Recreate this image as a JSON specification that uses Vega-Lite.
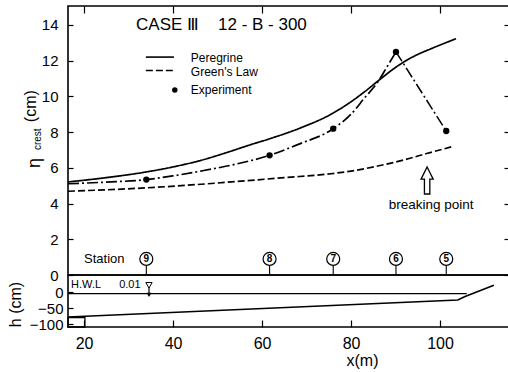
{
  "$schema": "https://vega.github.io/schema/vega-lite/v6.json",
  "padding": {"left": 6, "top": 4, "right": 0, "bottom": 0},
  "spacing": 0,
  "bounds": "flush",
  "config": {
    "font": "Liberation Sans",
    "view": {"stroke": "black", "strokeWidth": 1.6},
    "axis": {"domain": false, "grid": false, "tickColor": "black", "tickWidth": 1.2, "labelColor": "black", "titleColor": "black", "labelFont": "Liberation Sans", "titleFont": "Liberation Sans", "titleFontWeight": "normal"},
    "text": {"color": "black"}
  },
  "datasets": {
    "one": [{}],
    "curves": [
      {"model": "Peregrine", "x": 16.4, "eta": 5.21},
      {"model": "Peregrine", "x": 25, "eta": 5.45},
      {"model": "Peregrine", "x": 34, "eta": 5.77},
      {"model": "Peregrine", "x": 40, "eta": 6.05},
      {"model": "Peregrine", "x": 46.3, "eta": 6.42},
      {"model": "Peregrine", "x": 52, "eta": 6.85},
      {"model": "Peregrine", "x": 57.5, "eta": 7.3},
      {"model": "Peregrine", "x": 62, "eta": 7.65},
      {"model": "Peregrine", "x": 68.8, "eta": 8.25},
      {"model": "Peregrine", "x": 75.5, "eta": 9.0},
      {"model": "Peregrine", "x": 80, "eta": 9.7},
      {"model": "Peregrine", "x": 83, "eta": 10.25},
      {"model": "Peregrine", "x": 86.7, "eta": 10.99},
      {"model": "Peregrine", "x": 90, "eta": 11.62},
      {"model": "Peregrine", "x": 92.7, "eta": 12.05},
      {"model": "Peregrine", "x": 95, "eta": 12.35},
      {"model": "Peregrine", "x": 98, "eta": 12.67},
      {"model": "Peregrine", "x": 103.6, "eta": 13.23},
      {"model": "Green's Law", "x": 16.4, "eta": 4.69},
      {"model": "Green's Law", "x": 25, "eta": 4.77},
      {"model": "Green's Law", "x": 34, "eta": 4.88},
      {"model": "Green's Law", "x": 46.3, "eta": 5.08},
      {"model": "Green's Law", "x": 57.5, "eta": 5.3},
      {"model": "Green's Law", "x": 65, "eta": 5.45},
      {"model": "Green's Law", "x": 75.5, "eta": 5.67},
      {"model": "Green's Law", "x": 80, "eta": 5.82},
      {"model": "Green's Law", "x": 86, "eta": 6.1},
      {"model": "Green's Law", "x": 92, "eta": 6.45},
      {"model": "Green's Law", "x": 97, "eta": 6.8},
      {"model": "Green's Law", "x": 102.5, "eta": 7.17},
      {"model": "Experiment", "x": 16.4, "eta": 5.11},
      {"model": "Experiment", "x": 25, "eta": 5.2},
      {"model": "Experiment", "x": 34.0, "eta": 5.34},
      {"model": "Experiment", "x": 40, "eta": 5.55},
      {"model": "Experiment", "x": 46.3, "eta": 5.82},
      {"model": "Experiment", "x": 54, "eta": 6.2},
      {"model": "Experiment", "x": 61.7, "eta": 6.7},
      {"model": "Experiment", "x": 68, "eta": 7.3},
      {"model": "Experiment", "x": 76.0, "eta": 8.19},
      {"model": "Experiment", "x": 80, "eta": 9.0},
      {"model": "Experiment", "x": 83, "eta": 9.9},
      {"model": "Experiment", "x": 86, "eta": 10.8},
      {"model": "Experiment", "x": 88, "eta": 11.62},
      {"model": "Experiment", "x": 90.1, "eta": 12.49}
    ],
    "experiment": [
      {"station": "9", "x": 34.0, "eta": 5.34},
      {"station": "8", "x": 61.7, "eta": 6.7},
      {"station": "7", "x": 76.0, "eta": 8.19},
      {"station": "6", "x": 90.1, "eta": 12.49},
      {"station": "5", "x": 101.4, "eta": 8.06}
    ],
    "bed": [
      {"x": 16.4, "h": -77},
      {"x": 104.0, "h": -24},
      {"x": 105.5, "h": -14},
      {"x": 112.1, "h": 22}
    ],
    "water": [
      {"x": 16.4, "h": -4},
      {"x": 106, "h": -4}
    ]
  },
  "vconcat": [
    {
      "width": 441,
      "height": 269,
      "resolve": {"axis": {"x": "independent", "y": "independent"}},
      "layer": [
        {
          "data": {"name": "curves"},
          "mark": {"type": "line", "color": "black", "strokeWidth": 1.7, "interpolate": "monotone"},
          "encoding": {
            "x": {"field": "x", "type": "quantitative", "scale": {"domain": [16.4, 115.5], "nice": false, "zero": false},
                  "axis": {"orient": "top", "values": [20, 40, 60, 80, 100], "labels": false, "tickSize": -7, "title": null}},
            "y": {"field": "eta", "type": "quantitative", "scale": {"domain": [0, 15.06], "nice": false, "zero": false},
                  "axis": {"orient": "left", "values": [0, 2, 4, 6, 8, 10, 12, 14], "tickSize": -5, "labelPadding": 15, "labelFontSize": 15, "title": null}},
            "strokeDash": {"field": "model", "type": "nominal",
                           "scale": {"domain": ["Peregrine", "Green's Law", "Experiment"], "range": [[1, 0], [7, 3], [11, 3, 2, 3]]},
                           "legend": null}
          }
        },
        {
          "data": {"name": "experiment"},
          "transform": [{"filter": "datum.x >= 90"}],
          "mark": {"type": "line", "color": "black", "strokeWidth": 1.5, "strokeDash": [11, 3, 2, 3]},
          "encoding": {
            "x": {"field": "x", "type": "quantitative", "axis": null},
            "y": {"field": "eta", "type": "quantitative", "axis": null}
          }
        },
        {
          "data": {"name": "experiment"},
          "mark": {"type": "point", "shape": "circle", "filled": true, "color": "black", "size": 40, "opacity": 1},
          "encoding": {
            "x": {"field": "x", "type": "quantitative", "axis": null},
            "y": {"field": "eta", "type": "quantitative",
                  "axis": {"orient": "right", "values": [0, 2, 4, 6, 8, 10, 12, 14], "labels": false, "tickSize": -5, "title": null}}
          }
        },
        {
          "data": {"name": "experiment"},
          "mark": {"type": "rule", "color": "black", "strokeWidth": 1.1},
          "encoding": {
            "x": {"field": "x", "type": "quantitative", "axis": null},
            "y": {"datum": 0, "axis": null},
            "y2": {"datum": 0.55}
          }
        },
        {
          "data": {"name": "experiment"},
          "mark": {"type": "point", "shape": "circle", "filled": true, "fill": "white", "stroke": "black", "strokeWidth": 1.2, "size": 169, "opacity": 1},
          "encoding": {
            "x": {"field": "x", "type": "quantitative", "axis": null},
            "y": {"datum": 0.9, "axis": null}
          }
        },
        {
          "data": {"name": "experiment"},
          "mark": {"type": "text", "fontSize": 10, "fontWeight": "bold", "align": "center", "baseline": "middle", "dy": 0.5},
          "encoding": {
            "x": {"field": "x", "type": "quantitative", "axis": null},
            "y": {"datum": 0.9, "axis": null},
            "text": {"field": "station"}
          }
        },
        {
          "data": {"name": "one"},
          "mark": {"type": "text", "text": "Station", "fontSize": 13, "align": "left", "baseline": "middle"},
          "encoding": {"x": {"datum": 20.0, "axis": null}, "y": {"datum": 0.9, "axis": null}}
        },
        {
          "data": {"name": "one"},
          "mark": {"type": "text", "text": "CASE Ⅲ\u00a0\u00a0\u00a0 12 - B - 300", "fontSize": 17, "align": "left", "baseline": "middle"},
          "encoding": {"x": {"datum": 31.7, "axis": null}, "y": {"datum": 14.0, "axis": null}}
        },
        {
          "data": {"name": "one"},
          "mark": {"type": "rule", "color": "black", "strokeWidth": 1.6},
          "encoding": {"x": {"datum": 33.9, "axis": null}, "x2": {"datum": 40.2}, "y": {"datum": 12.2, "axis": null}}
        },
        {
          "data": {"name": "one"},
          "mark": {"type": "rule", "color": "black", "strokeWidth": 1.6, "strokeDash": [7, 3]},
          "encoding": {"x": {"datum": 33.9, "axis": null}, "x2": {"datum": 40.2}, "y": {"datum": 11.45, "axis": null}}
        },
        {
          "data": {"name": "one"},
          "mark": {"type": "point", "shape": "circle", "filled": true, "color": "black", "size": 30, "opacity": 1},
          "encoding": {"x": {"datum": 40.4, "axis": null}, "y": {"datum": 10.36, "axis": null}}
        },
        {
          "data": {"name": "one"},
          "mark": {"type": "text", "text": "Peregrine", "fontSize": 12, "align": "left", "baseline": "middle"},
          "encoding": {"x": {"datum": 44.0, "axis": null}, "y": {"datum": 12.15, "axis": null}}
        },
        {
          "data": {"name": "one"},
          "mark": {"type": "text", "text": "Green's Law", "fontSize": 12, "align": "left", "baseline": "middle"},
          "encoding": {"x": {"datum": 44.0, "axis": null}, "y": {"datum": 11.37, "axis": null}}
        },
        {
          "data": {"name": "one"},
          "mark": {"type": "text", "text": "Experiment", "fontSize": 12, "align": "left", "baseline": "middle"},
          "encoding": {"x": {"datum": 44.0, "axis": null}, "y": {"datum": 10.36, "axis": null}}
        },
        {
          "data": {"name": "one"},
          "mark": {"type": "point", "shape": "M0,-1L0.45,-0.1L0.2,-0.1L0.2,1L-0.2,1L-0.2,-0.1L-0.45,-0.1Z", "filled": true, "fill": "white", "stroke": "black", "strokeWidth": 1.3, "size": 729, "opacity": 1},
          "encoding": {"x": {"datum": 97.1, "axis": null}, "y": {"datum": 5.29, "axis": null}}
        },
        {
          "data": {"name": "one"},
          "mark": {"type": "text", "text": "breaking point", "fontSize": 13.5, "align": "center", "baseline": "middle"},
          "encoding": {"x": {"datum": 98.0, "axis": null}, "y": {"datum": 3.92, "axis": null}}
        },
        {
          "data": {"name": "one"},
          "mark": {"type": "text", "text": "η", "fontSize": 18, "angle": 270, "align": "center", "baseline": "middle"},
          "encoding": {"x": {"datum": 9.0, "axis": null}, "y": {"datum": 6.27, "axis": null}}
        },
        {
          "data": {"name": "one"},
          "mark": {"type": "text", "text": "crest", "fontSize": 10, "angle": 270, "align": "center", "baseline": "middle"},
          "encoding": {"x": {"datum": 9.6, "axis": null}, "y": {"datum": 7.6, "axis": null}}
        },
        {
          "data": {"name": "one"},
          "mark": {"type": "text", "text": "(cm)", "fontSize": 16, "angle": 270, "align": "center", "baseline": "middle"},
          "encoding": {"x": {"datum": 8.1, "axis": null}, "y": {"datum": 9.45, "axis": null}}
        }
      ]
    },
    {
      "width": 441,
      "height": 52,
      "resolve": {"axis": {"x": "independent", "y": "independent"}},
      "layer": [
        {
          "data": {"name": "bed"},
          "mark": {"type": "line", "color": "black", "strokeWidth": 1.6},
          "encoding": {
            "x": {"field": "x", "type": "quantitative", "scale": {"domain": [16.4, 115.5], "nice": false, "zero": false},
                  "axis": {"orient": "bottom", "values": [20, 40, 60, 80, 100], "tickSize": -7, "labelPadding": 15, "labelFontSize": 16,
                           "title": "x(m)", "titleFontSize": 16, "titleX": 294, "titleY": 33, "titleAlign": "center", "titleBaseline": "middle"}},
            "y": {"field": "h", "type": "quantitative", "scale": {"domain": [-108, 54], "nice": false, "zero": false},
                  "axis": {"orient": "left", "values": [0, -50, -100], "tickSize": -5, "labelPadding": 10, "labelFontSize": 15,
                           "title": "h (cm)", "titleFontSize": 16, "titleX": -53, "titleY": 29, "titleAngle": 270, "titleAlign": "center", "titleBaseline": "middle"}}
          }
        },
        {
          "data": {"name": "water"},
          "mark": {"type": "line", "color": "black", "strokeWidth": 1.2},
          "encoding": {
            "x": {"field": "x", "type": "quantitative", "axis": null},
            "y": {"field": "h", "type": "quantitative", "axis": null}
          }
        },
        {
          "data": {"name": "one"},
          "mark": {"type": "rect", "fill": null, "stroke": "black", "strokeWidth": 1.3},
          "encoding": {"x": {"datum": 16.4, "axis": null}, "x2": {"datum": 20.2}, "y": {"datum": -108, "axis": null}, "y2": {"datum": -79}}
        },
        {
          "data": {"name": "one"},
          "mark": {"type": "text", "text": "H.W.L", "fontSize": 11, "align": "left", "baseline": "middle"},
          "encoding": {"x": {"datum": 17.1, "axis": null}, "y": {"datum": 22, "axis": null}}
        },
        {
          "data": {"name": "one"},
          "mark": {"type": "text", "text": "0.01", "fontSize": 11, "align": "left", "baseline": "middle"},
          "encoding": {"x": {"datum": 27.9, "axis": null}, "y": {"datum": 22, "axis": null}}
        },
        {
          "data": {"name": "one"},
          "mark": {"type": "point", "shape": "triangle-down", "filled": false, "color": "black", "strokeWidth": 1, "size": 40, "opacity": 1},
          "encoding": {"x": {"datum": 34.6, "axis": null}, "y": {"datum": 22, "axis": null}}
        },
        {
          "data": {"name": "one"},
          "mark": {"type": "rule", "color": "black", "strokeWidth": 1.2},
          "encoding": {"x": {"datum": 34.6, "axis": null}, "y": {"datum": 16, "axis": null}, "y2": {"datum": -6}}
        },
        {
          "data": {"name": "one"},
          "mark": {"type": "point", "shape": "triangle-down", "filled": true, "color": "black", "size": 25, "opacity": 1},
          "encoding": {"x": {"datum": 34.6, "axis": null}, "y": {"datum": -8, "axis": null}}
        }
      ]
    }
  ]
}
